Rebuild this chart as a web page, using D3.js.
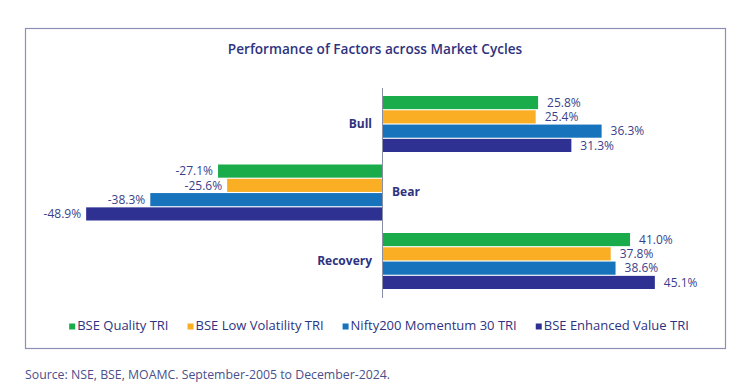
<!DOCTYPE html>
<html lang="en">

<head>
	<meta charset="utf-8">
	<title>Performance of Factors across Market Cycles</title>
	<script type="text/javascript" src="https://cdn.jsdelivr.net/npm/d3@7"></script>
	<style type="text/css">
		body {
			margin: 0;
			background: #fff;
		}

		svg text {
			font-family: "Open Sans", sans-serif;
		}

		.axis path {
			stroke: #8a8fa8;
			shape-rendering: crispEdges;
		}

		.axis text {
			font-weight: bold;
			font-size: 12px;
			fill: #2e3380;
		}
	</style>
</head>

<body>
	<script type="text/javascript">
		//Width and height
		var w = 750;
		var h = 390;

		// data
		var cycles = ["Bull", "Bear", "Recovery"];
		var seriesNames = ["BSE Quality TRI", "BSE Low Volatility TRI", "Nifty200 Momentum 30 TRI", "BSE Enhanced Value TRI"];
		var quality = [25.8, -27.1, 41.0];
		var lowVol = [25.4, -25.6, 37.8];
		var momentum = [36.3, -38.3, 38.6];
		var value = [31.3, -48.9, 45.1];
		var colors = ["#1aab4b", "#f9ae24", "#1673bc", "#2e3192"];

		var allSeries = [quality, lowVol, momentum, value];

		// flatten for drawing
		var bars = [];
		cycles.forEach(function (c, i) {
			seriesNames.forEach(function (s, j) {
				bars.push({ cycle: c, series: s, idx: j, v: allSeries[j][i] });
			});
		});

		//scales
		var xScale = d3.scaleLinear()
			.domain([-50, 50])
			.range([79.5, 684.5]);

		var yScale = d3.scaleBand()
			.domain(cycles)
			.range([89.75, 295.25])
			.paddingInner(0.1825)
			.paddingOuter(0.0912);

		var ySub = d3.scaleBand()
			.domain(seriesNames)
			.range([0, yScale.bandwidth()])
			.paddingInner(0.08);

		// plain hyphen for negatives, like the original
		var fmt = function (v) {
			return d3.format(".1f")(v).replace("\u2212", "-") + "%";
		};

		//Create SVG element
		var svg = d3.select("body")
			.append("svg")
			.attr("width", w)
			.attr("height", h);

		// frame
		svg.append("rect")
			.attr("x", 25.5)
			.attr("y", 28.5)
			.attr("width", 700)
			.attr("height", 320)
			.attr("fill", "none")
			.attr("stroke", "#8c8fb8")
			.attr("stroke-width", 1.2);

		// title
		svg.append("text")
			.attr("x", 375)
			.attr("y", 54)
			.attr("text-anchor", "middle")
			.attr("font-size", "13.6px")
			.attr("font-weight", "600")
			.attr("fill", "#2e3380")
			.text("Performance of Factors across Market Cycles");

		// bars
		svg.selectAll("rect.bar")
			.data(bars)
			.enter()
			.append("rect")
			.attr("class", "bar")
			.attr("x", function (d) {
				return xScale(Math.min(0, d.v));
			})
			.attr("y", function (d) {
				return yScale(d.cycle) + ySub(d.series);
			})
			.attr("width", function (d) {
				return Math.abs(xScale(d.v) - xScale(0));
			})
			.attr("height", ySub.bandwidth())
			.attr("fill", function (d) {
				return colors[d.idx];
			});

		// value labels
		svg.selectAll("text.val")
			.data(bars)
			.enter()
			.append("text")
			.attr("class", "val")
			.attr("x", function (d) {
				return d.v < 0 ? xScale(d.v) - 5 : xScale(d.v) + 9;
			})
			.attr("y", function (d) {
				return yScale(d.cycle) + ySub(d.series) + ySub.bandwidth() / 2 + 4.2;
			})
			.attr("text-anchor", function (d) {
				return d.v < 0 ? "end" : "start";
			})
			.attr("font-size", "12px")
			.attr("fill", "#3a3f8c")
			.text(function (d) {
				return fmt(d.v);
			});

		// y axis at zero
		var yAxis = d3.axisLeft(yScale)
			.tickSize(0)
			.tickPadding(10);

		var gAxis = svg.append("g")
			.attr("class", "axis")
			.attr("transform", "translate(" + xScale(0) + ",0)")
			.call(yAxis);

		gAxis.select(".domain")
			.attr("d", "M0," + 88 + "V" + 298);

		// put the label on the right where the bars go negative
		gAxis.selectAll(".tick text")
			.filter(function (d, i) {
				return d3.max(allSeries, function (s) { return s[i]; }) < 0;
			})
			.attr("text-anchor", "start")
			.attr("x", 10);

		// legend
		var legend = svg.append("g");
		var lx = 0;
		seriesNames.forEach(function (s, j) {
			var item = legend.append("g").attr("transform", "translate(" + lx + ",0)");
			item.append("rect")
				.attr("x", 0)
				.attr("y", -6.5)
				.attr("width", 6)
				.attr("height", 6)
				.attr("fill", colors[j]);
			var t = item.append("text")
				.attr("x", 8)
				.attr("y", 0)
				.attr("font-size", "13px")
				.attr("fill", "#2e3380")
				.text(s);
			lx += 8 + t.node().getComputedTextLength() + 19;
		});
		var legW = lx - 19;
		legend.attr("transform", "translate(" + (379 - legW / 2) + ",330)");

		// source note
		svg.append("text")
			.attr("x", 25)
			.attr("y", 379)
			.attr("font-size", "12.3px")
			.attr("fill", "#4a4f8a")
			.text("Source: NSE, BSE, MOAMC. September-2005 to December-2024.");

	</script>
</body>

</html>
